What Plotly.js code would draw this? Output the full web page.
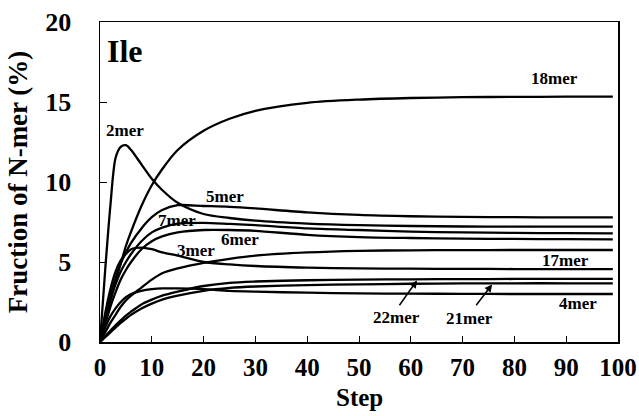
<!DOCTYPE html>
<html>
<head>
<meta charset="utf-8">
<script src="https://cdn.plot.ly/plotly-3.0.1.min.js"></script>
<style>html,body{margin:0;padding:0;background:#fff}#chart{width:639px;height:416px}</style>
</head>
<body>
<div id="chart"></div>
<script>
// Steps sampled
const steps = [0,1,2,3,4,5,6,8,10,12,15,20,25,30,40,50,60,70,80,90,99];
// Fraction of N-mer (%)
const mer18 = [0,1.3,2.6,3.8,4.9,6.0,6.9,8.5,9.8,10.8,12.0,13.2,13.95,14.45,14.95,15.15,15.25,15.3,15.32,15.33,15.33];
const mer2  = [0,4.5,8.5,11.5,12.2,12.3,12.0,11.1,10.2,9.5,8.7,8.0,7.75,7.58,7.4,7.3,7.25,7.22,7.21,7.21,7.21];
const mer5  = [0,1.5,2.9,4.0,4.9,5.6,6.2,7.1,7.8,8.25,8.55,8.5,8.45,8.35,8.1,7.94,7.86,7.82,7.8,7.79,7.79];
const mer7  = [0,1.3,2.6,3.6,4.4,5.0,5.5,6.3,6.85,7.15,7.4,7.45,7.38,7.3,7.1,7.0,6.9,6.85,6.82,6.8,6.79];
const mer6  = [0,1.1,2.2,3.1,3.9,4.5,5.0,5.8,6.3,6.6,6.85,7.0,7.0,6.95,6.7,6.56,6.5,6.46,6.44,6.43,6.42];
const mer3  = [0,1.8,3.3,4.4,5.1,5.5,5.8,5.9,5.8,5.6,5.4,5.0,4.85,4.75,4.65,4.6,4.58,4.57,4.56,4.56,4.56];
const mer17 = [0,0.6,1.2,1.7,2.2,2.6,2.9,3.4,3.9,4.3,4.6,4.95,5.2,5.4,5.6,5.7,5.73,5.74,5.75,5.75,5.75];
const mer22 = [0,0.35,0.7,1.05,1.35,1.65,1.9,2.35,2.65,2.9,3.15,3.5,3.7,3.78,3.86,3.9,3.92,3.93,3.94,3.94,3.94];
const mer21 = [0,0.3,0.6,0.9,1.2,1.45,1.7,2.1,2.4,2.65,2.9,3.2,3.38,3.47,3.56,3.6,3.64,3.66,3.67,3.67,3.67];
const mer4  = [0,0.9,1.6,2.1,2.5,2.8,3.0,3.2,3.3,3.35,3.35,3.3,3.2,3.15,3.08,3.04,3.02,3.01,3.0,3.0,3.0];

const seriesList = [mer18, mer2, mer5, mer7, mer6, mer3, mer17, mer22, mer21, mer4];

const traces = seriesList.map(v => ({
  x: steps, y: v, type: 'scatter', mode: 'lines',
  line: {color: '#000', width: 2.3, shape: 'spline', smoothing: 0.8},
  hoverinfo: 'skip', showlegend: false
}));

const F = 'Liberation Serif, Times New Roman, serif';
const lab = (text, x, y, size) => ({text: '<b>' + text + '</b>', x: x, y: y, xref: 'x', yref: 'y',
  showarrow: false, font: {family: F, size: size || 17, color: '#000'}});
const arrow = (x, y, ax, ay) => ({text: '', x: x, y: y, ax: ax, ay: ay, xref: 'x', yref: 'y',
  axref: 'x', ayref: 'y', showarrow: true, arrowhead: 2, arrowsize: 1, arrowwidth: 1.5, arrowcolor: '#000'});

const layout = {
  width: 639, height: 416,
  margin: {l: 100, r: 21, t: 22, b: 74},
  paper_bgcolor: '#fff', plot_bgcolor: '#fff',
  font: {family: F, color: '#000'},
  xaxis: {
    range: [0, 100], tickvals: [0,10,20,30,40,50,60,70,80,90,100],
    ticks: 'inside', ticklen: 6, tickwidth: 1, tickcolor: '#000',
    showline: true, linecolor: '#000', linewidth: 1.5, mirror: true,
    showgrid: false, zeroline: false,
    tickfont: {family: F, size: 25, color: '#000', weight: 'bold'},
    ticklabelstandoff: 2
  },
  yaxis: {
    range: [0, 20], tickvals: [0,5,10,15,20],
    ticks: 'inside', ticklen: 7, tickwidth: 1, tickcolor: '#000',
    showline: true, linecolor: '#000', linewidth: 1.5, mirror: true,
    showgrid: false, zeroline: false,
    tickfont: {family: F, size: 26, color: '#000', weight: 'bold'},
    ticklabelstandoff: 22,
    title: {text: '<b>Fruction of N-mer (%)</b>', font: {family: F, size: 27, color: '#000'}, standoff: 10}
  },
  annotations: [
    {text: '<b>Step</b>', x: 0.5, y: -0.172, xref: 'paper', yref: 'paper', showarrow: false,
     xanchor: 'center', yanchor: 'middle', font: {family: F, size: 25, color: '#000'}},
    lab('Ile', 4.9, 18.2, 32),
    lab('18mer', 87.8, 16.5),
    lab('2mer', 4.8, 13.2),
    lab('5mer', 24.1, 9.1),
    lab('7mer', 14.9, 7.6),
    lab('6mer', 27.0, 6.4),
    lab('3mer', 18.5, 5.75),
    lab('17mer', 89.8, 5.1),
    lab('22mer', 57.3, 1.55),
    lab('21mer', 71.4, 1.5),
    lab('4mer', 92.3, 2.4),
    arrow(61.2, 3.85, 57.6, 2.2),
    arrow(75.7, 3.6, 72.4, 2.2)
  ]
};

Plotly.newPlot('chart', traces, layout, {staticPlot: true, displayModeBar: false});
</script>
</body>
</html>
